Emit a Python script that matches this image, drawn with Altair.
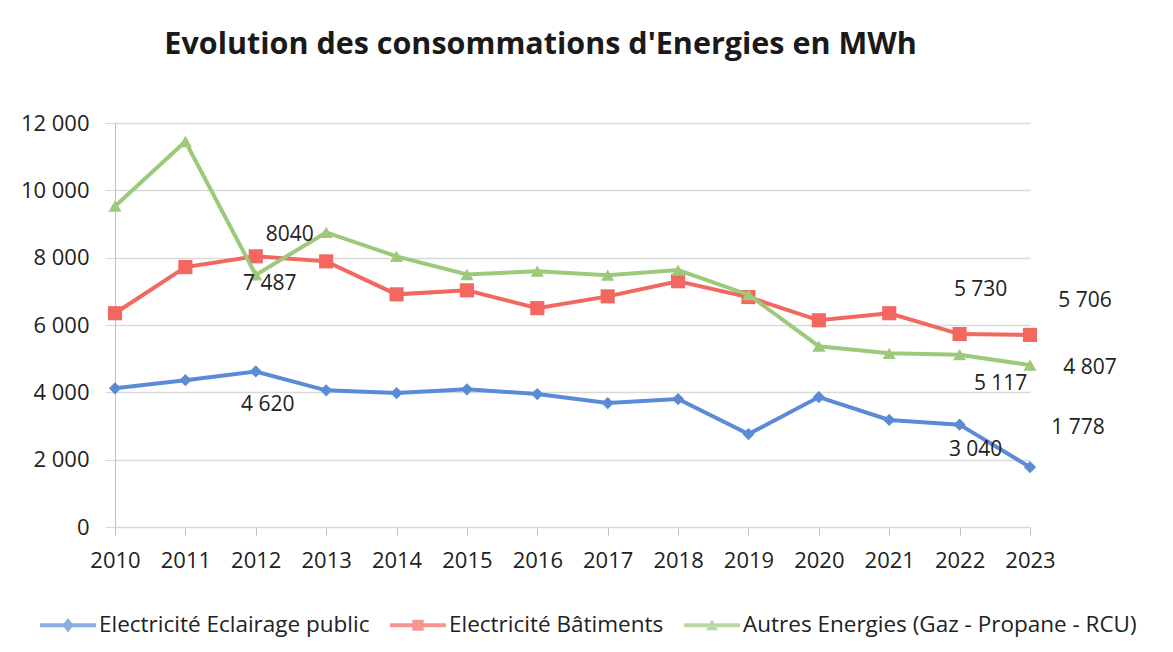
import altair as alt
import pandas as pd

# ---- data ----
years = list(range(2010, 2024))
series_names = [
    "Electricité Eclairage public",
    "Electricité Bâtiments",
    "Autres Energies (Gaz - Propane - RCU)",
]
eclairage = [4120, 4360, 4620, 4060, 3980, 4090, 3950, 3680, 3800, 2760, 3860, 3180, 3040, 1778]
batiments = [6350, 7720, 8040, 7890, 6910, 7030, 6500, 6850, 7300, 6830, 6140, 6350, 5730, 5706]
autres = [9530, 11450, 7487, 8750, 8040, 7500, 7600, 7480, 7630, 6900, 5370, 5160, 5117, 4807]
y_ticks = [0, 2000, 4000, 6000, 8000, 10000, 12000]

label_series = [1, 2, 0, 1, 1, 2, 2, 0, 0]
label_years = [2012, 2012, 2012, 2022, 2023, 2023, 2022, 2023, 2022]
label_texts = ["8040", "7 487", "4 620", "5 730", "5 706", "4 807", "5 117", "1 778", "3 040"]

# ---- styling ----
colors = ["#5B8AD6", "#F2675F", "#9DC97A"]
shapes = ["diamond", "square", "triangle-up"]
sizes = [150, 200, 170]
FONT = "Open Sans"
label_offsets = [(34, -21), (14, 9), (12, 34), (21, -44), (55, -34), (60, 3), (41, 29), (48, -39), (16, 25)]

legend_paths = [
    "M-1,-0.07L1,-0.07L1,0.07L-1,0.07Z M0,-0.26L0.2,0L0,0.26L-0.2,0Z",
    "M-1,-0.07L1,-0.07L1,0.07L-1,0.07Z M-0.2,-0.2L0.2,-0.2L0.2,0.2L-0.2,0.2Z",
    "M-1,-0.07L1,-0.07L1,0.07L-1,0.07Z M0,-0.22L0.22,0.18L-0.22,0.18Z",
]

rows = []
for name, vals in zip(series_names, [eclairage, batiments, autres]):
    for yr, v in zip(years, vals):
        rows.append({"year": yr, "value": v, "series": name})
df = pd.DataFrame(rows)

x_enc = alt.X(
    "year:O",
    scale=alt.Scale(type="point", padding=0),
    axis=alt.Axis(
        title=None, labelAngle=0, grid=False, domain=True, domainColor="#D9D9D9",
        tickColor="#BFBFBF", tickSize=8, labelPadding=15, labelFontSize=22,
        labelFont=FONT, labelColor="#222222",
    ),
)
y_enc = alt.Y(
    "value:Q",
    scale=alt.Scale(domain=[0, 12000], nice=False),
    axis=alt.Axis(
        title=None, values=y_ticks, grid=True, gridColor="#D9D9D9", gridWidth=1.5,
        domain=True, domainColor="#BFBFBF", tickColor="#D9D9D9", tickSize=10,
        labelPadding=16, labelFontSize=22, labelFont=FONT, labelColor="#222222",
        labelExpr="replace(format(datum.value, ','), ',', ' ')",
    ),
)

base = alt.Chart(df)
layers = []
for i, name in enumerate(series_names):
    sub = base.transform_filter(alt.datum.series == name)
    layers.append(sub.mark_line(color=colors[i], strokeWidth=4).encode(x=x_enc, y=y_enc))
    layers.append(
        sub.mark_point(shape=shapes[i], filled=True, opacity=1, color=colors[i], size=sizes[i]).encode(x=x_enc, y=y_enc)
    )

for (si, yr, txt), (dx, dy) in zip(zip(label_series, label_years, label_texts), label_offsets):
    name = series_names[si]
    layers.append(
        base.transform_filter((alt.datum.series == name) & (alt.datum.year == yr))
        .mark_text(text=txt, dx=dx, dy=dy, fontSize=21, font=FONT, color="#222222")
        .encode(x=x_enc, y=y_enc)
    )

legend_params = dict(
    title=None, orient="none", legendX=-75, legendY=474, direction="horizontal",
    symbolSize=3136, symbolStrokeWidth=0, labelFont=FONT, labelFontSize=22.5,
    labelColor="#222222", labelOffset=3, columnPadding=20, labelLimit=600,
)
legend_layer = (
    base.transform_filter("false")
    .mark_point(filled=True)
    .encode(
        x=x_enc,
        y=y_enc,
        color=alt.Color(
            "series:N",
            scale=alt.Scale(domain=series_names, range=colors),
            legend=alt.Legend(**legend_params),
        ),
        shape=alt.Shape(
            "series:N",
            scale=alt.Scale(domain=series_names, range=legend_paths),
            legend=alt.Legend(**legend_params),
        ),
    )
)
layers.append(legend_layer)

chart = (
    alt.layer(*layers)
    .properties(
        width=915,
        height=404,
        title=alt.TitleParams(
            "Evolution des consommations d'Energies en MWh",
            font=FONT, fontSize=30.5, fontWeight="bold", color="#1A1A1A",
            anchor="middle", offset=52, dx=-32,
        ),
        autosize=alt.AutoSizeParams(type="none"),
        padding={"left": 107, "top": 115, "right": 135, "bottom": 117},
        background="white",
    )
    .configure_view(stroke=None)
)

chart.save("out.html", embed_options={"renderer": "svg", "actions": False})
